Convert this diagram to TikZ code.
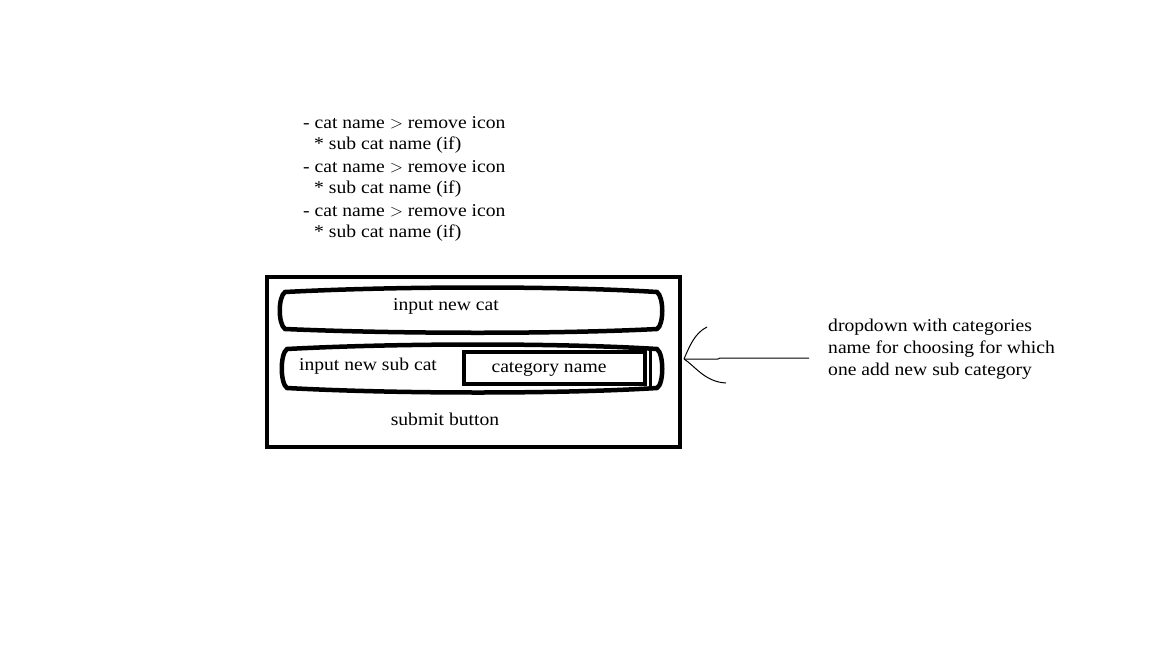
\documentclass[tikz,border=0pt]{standalone}
\usepackage{fontspec}
\setmainfont{Liberation Serif}[FakeStretch=1.09]
\begin{document}
\begin{tikzpicture}[x=1pt,y=-1pt,
  txt/.style={inner sep=0pt,font=\fontsize{18}{22}\selectfont},
  thick box/.style={line width=4.5pt},
  pen/.style={line width=1pt}]
\useasboundingbox (0,0) rectangle (1152,648);
% list
\node[txt,anchor=west] (l1) at (303,123) {- cat name $>$ remove icon};
\node[txt,anchor=west] (l2) at (314,145) {* sub cat name (if)};
\node[txt,anchor=west] (l3) at (303,167) {- cat name $>$ remove icon};
\node[txt,anchor=west] (l4) at (314,189) {* sub cat name (if)};
\node[txt,anchor=west] (l5) at (303,211) {- cat name $>$ remove icon};
\node[txt,anchor=west] (l6) at (314,233) {* sub cat name (if)};
% outer box
\draw[thick box] (267,277) rectangle (680,447);
\coordinate (tip) at (684,359);
% input new cat
\draw[thick box] (285,292) .. controls (400,286) and (560,286) .. (657,292)
  .. controls (664,297) and (664,325) .. (657,329)
  .. controls (560,334) and (400,334) .. (285,329)
  .. controls (278,324) and (278,297) .. cycle;
\node[txt] (cat) at (446,306) {input new cat};
% input new sub cat
\draw[thick box] (287,349) .. controls (400,343) and (560,343) .. (657,349)
  .. controls (664,354) and (664,384) .. (657,388)
  .. controls (560,394) and (400,394) .. (287,388)
  .. controls (280,383) and (280,354) .. cycle;
\node[txt] (sub) at (368,366) {input new sub cat};
\draw[thick box] (464,352) rectangle (645,384);
\draw[line width=3pt] (650,349) -- (650,389);
\node[txt] (catname) at (549,369) {category name};
\node[txt] (submit) at (445,419) {submit button};
% annotation
\node[txt,anchor=north west,align=left] (note) at (828,319)
  {dropdown with categories\\name for choosing for which\\one add new sub category};
\coordinate (tail) at (809,358);
\draw[pen] (tail) -- (720,358) -- (718,359) -- (tip);
\draw[pen] (tip) .. controls (690,345) and (695,333) .. (707,327);
\draw[pen] (tip) .. controls (695,366) and (705,382) .. (726,383);
\end{tikzpicture}
\end{document}
